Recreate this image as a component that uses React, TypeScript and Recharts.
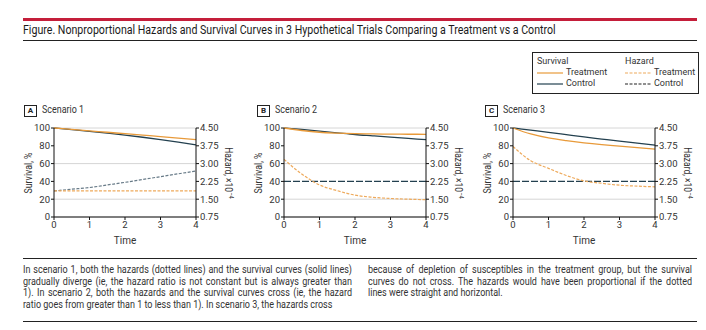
import { LineChart, Line, XAxis, YAxis, CartesianGrid } from 'recharts';

const times = [0, 0.5, 1, 1.5, 2, 2.5, 3, 3.5, 4];
const timeTicks = [0, 1, 2, 3, 4];
const survivalTicks = [0, 20, 40, 60, 80, 100];
const hazardTicks = [0.75, 1.5, 2.25, 3.0, 3.75, 4.5];

// scenario 1: hazards diverge, curves diverge
const s1SurvTreatment = [100, 98.4, 96.8, 95.2, 93.6, 92.0, 90.4, 88.7, 87.0];
const s1SurvControl = [100, 98.2, 96.3, 94.2, 92.0, 89.6, 87.0, 84.1, 81.0];
const s1HazTreatment = [1.85, 1.85, 1.85, 1.85, 1.85, 1.85, 1.85, 1.85, 1.85];
const s1HazControl = [1.85, 1.92, 1.99, 2.1, 2.21, 2.33, 2.45, 2.57, 2.69];

// scenario 2: hazards and curves cross
const s2SurvTreatment = [100, 97.2, 95.2, 94.2, 93.6, 93.3, 93.1, 93.0, 92.9];
const s2SurvControl = [100, 98.3, 96.5, 94.6, 92.7, 91.2, 89.7, 88.3, 86.9];
const s2HazTreatment = [3.18, 2.56, 2.1, 1.86, 1.67, 1.58, 1.53, 1.5, 1.48];
const s2HazControl = [2.25, 2.25, 2.25, 2.25, 2.25, 2.25, 2.25, 2.25, 2.25];

// scenario 3: hazards cross, curves do not
const s3SurvTreatment = [100, 93.3, 88.8, 85.8, 83.4, 81.4, 79.7, 78.0, 76.3];
const s3SurvControl = [100, 97.6, 95.2, 92.6, 90.0, 87.6, 85.2, 83.0, 80.8];
const s3HazTreatment = [3.72, 3.12, 2.8, 2.5, 2.27, 2.17, 2.09, 2.05, 2.02];
const s3HazControl = [2.25, 2.25, 2.25, 2.25, 2.25, 2.25, 2.25, 2.25, 2.25];

const captionLeft = [
  'In scenario 1, both the hazards (dotted lines) and the survival curves (solid lines)',
  'gradually diverge (ie, the hazard ratio is not constant but is always greater than',
  '1). In scenario 2, both the hazards and the survival curves cross (ie, the hazard',
  'ratio goes from greater than 1 to less than 1). In scenario 3, the hazards cross',
];
const captionRight = [
  'because of depletion of susceptibles in the treatment group, but the survival',
  'curves do not cross. The hazards would have been proportional if the dotted',
  'lines were straight and horizontal.',
];

const ORANGE = '#e89a3a';
const ORANGE_LIGHT = '#eeaa5c';
const NAVY = '#23404f';
const FONT = 'Roboto, sans-serif';
const TEXT = '#333';

function buildRows(st: number[], sc: number[], ht: number[], hc: number[]) {
  return times.map((t, i) => ({ time: t, survT: st[i], survC: sc[i], hazT: ht[i], hazC: hc[i] }));
}

// narrow text: the original uses a condensed face, so squeeze Roboto horizontally
function Narrow({ children, scale, style }: { children: any; scale: number; style?: any }) {
  return (
    <div style={{ display: 'inline-block', whiteSpace: 'nowrap', transform: `scaleX(${scale})`, transformOrigin: 'left', ...style }}>
      {children}
    </div>
  );
}

function CaptionColumn({ lines, left, width, justifyLast }: { lines: string[]; left: number; width: number; justifyLast: boolean }) {
  const scale = 0.9;
  return (
    <div style={{ position: 'absolute', left, top: 264 }}>
      {lines.map((l, i) => {
        const justify = i < lines.length - 1 || justifyLast;
        return (
          <div key={l} style={{ height: 11.7 }}>
            <div
              style={{
                width: width / scale, fontSize: 10, lineHeight: '11.7px', color: TEXT, whiteSpace: 'nowrap',
                textAlign: justify ? 'justify' : 'left', textAlignLast: justify ? 'justify' : 'left',
                transform: `scaleX(${scale})`, transformOrigin: 'left',
              }}
            >
              {l}
            </div>
          </div>
        );
      })}
    </div>
  );
}

interface PanelProps {
  left: number;
  boxLeft: number;
  letter: string;
  title: string;
  rows: ReturnType<typeof buildRows>;
  ctrlHazColor: string;
  ctrlHazDash: string;
}

function Panel({ left, boxLeft, letter, title, rows, ctrlHazColor, ctrlHazDash }: PanelProps) {
  const plotLeft = left + 34;
  const plotRight = left + 176;
  const tick = { fontSize: 9.5, fill: TEXT, fontFamily: FONT };
  return (
    <>
      <div
        style={{
          position: 'absolute', left: boxLeft, top: 105, width: 11, height: 10,
          border: '1px solid #222', fontSize: 8, fontWeight: 'bold', lineHeight: '10px',
          textAlign: 'center', fontFamily: FONT, color: '#222',
        }}
      >
        {letter}
      </div>
      <div style={{ position: 'absolute', left: boxLeft + 18, top: 103, fontSize: 10.5, fontFamily: FONT, color: TEXT }}>
        <Narrow scale={0.85}>{title}</Narrow>
      </div>
      <div
        style={{
          position: 'absolute', left: plotLeft - 26, top: 173, transform: 'translate(-50%, -50%) rotate(-90deg) scaleX(0.88)',
          fontSize: 10, fontFamily: FONT, color: TEXT, whiteSpace: 'nowrap',
        }}
      >
        Survival, %
      </div>
      <div
        style={{
          position: 'absolute', left: plotRight + 33, top: 173, transform: 'translate(-50%, -50%) rotate(90deg) scaleX(0.85)',
          fontSize: 10, fontFamily: FONT, color: TEXT, whiteSpace: 'nowrap',
        }}
      >
        Hazard, ×10<sup style={{ fontSize: 7 }}>−4</sup>
      </div>
      <div style={{ position: 'absolute', left, top: 118 }}>
        <LineChart width={230} height={131} data={rows} margin={{ top: 10, right: 10, bottom: 2, left: 8 }}>
          <CartesianGrid yAxisId="surv" vertical={false} stroke="#d6d6d6" />
          <XAxis
            dataKey="time" type="number" domain={[0, 4]} ticks={timeTicks} height={30}
            tick={tick} tickSize={3} tickMargin={1} stroke="#111"
            label={{ value: 'Time', position: 'insideBottom', offset: 3, style: { fontSize: 10, fill: TEXT, fontFamily: FONT } }}
          />
          <YAxis
            yAxisId="surv" domain={[0, 100]} ticks={survivalTicks} width={26}
            tick={tick} tickSize={3} tickMargin={1} stroke="#111"
          />
          <YAxis
            yAxisId="haz" orientation="right" domain={[0.75, 4.5]} ticks={hazardTicks} width={44}
            tick={{ ...tick, textAnchor: 'start' }} tickSize={3} tickMargin={1} stroke="#111"
            tickFormatter={(v: number) => v.toFixed(2)}
          />
          <Line yAxisId="haz" dataKey="hazC" type="monotone" stroke={ctrlHazColor} strokeWidth={1.2} strokeDasharray={ctrlHazDash} dot={false} isAnimationActive={false} />
          <Line yAxisId="haz" dataKey="hazT" type="monotone" stroke={ORANGE_LIGHT} strokeWidth={1.2} strokeDasharray="3 1.5" dot={false} isAnimationActive={false} />
          <Line yAxisId="surv" dataKey="survC" type="monotone" stroke={NAVY} strokeWidth={1.3} dot={false} isAnimationActive={false} />
          <Line yAxisId="surv" dataKey="survT" type="monotone" stroke={ORANGE} strokeWidth={1.3} dot={false} isAnimationActive={false} />
        </LineChart>
      </div>
    </>
  );
}

function LegendKey({ color, dash }: { color: string; dash?: string }) {
  return (
    <svg width={26} height={4} style={{ display: 'inline-block', verticalAlign: 'middle', marginRight: 3 }}>
      <line x1={0} y1={2} x2={26} y2={2} stroke={color} strokeWidth={1.2} strokeDasharray={dash} />
    </svg>
  );
}

export default function App() {
  const legendText = { fontSize: 9, fontFamily: FONT, color: TEXT, whiteSpace: 'nowrap' as const, lineHeight: '11px' };
  return (
    <div style={{ position: 'absolute', left: 0, top: 0, width: 706, height: 330, background: '#fff', fontFamily: FONT }}>
      <div style={{ position: 'absolute', left: 23, top: 18, width: 674, height: 3, background: '#c41e3a' }} />
      <div style={{ position: 'absolute', left: 23, top: 22, fontSize: 12.5, color: '#1a1a1a' }}>
        <Narrow scale={0.85}>
          Figure. Nonproportional Hazards and Survival Curves in 3 Hypothetical Trials Comparing a Treatment vs a Control
        </Narrow>
      </div>
      <div style={{ position: 'absolute', left: 23, top: 40, width: 674, height: 1, background: '#222' }} />

      <div style={{ position: 'absolute', left: 532, top: 52, width: 165, height: 40, border: '1px solid #222' }}>
        <div style={{ position: 'absolute', left: 4, top: 3 }}>
          <div style={legendText}>Survival</div>
          <div style={legendText}><LegendKey color={ORANGE} />Treatment</div>
          <div style={legendText}><LegendKey color={NAVY} />Control</div>
        </div>
        <div style={{ position: 'absolute', left: 92, top: 3 }}>
          <div style={legendText}>Hazard</div>
          <div style={legendText}><LegendKey color={ORANGE_LIGHT} dash="3 1.5" />Treatment</div>
          <div style={legendText}><LegendKey color="#222" dash="3 1.5" />Control</div>
        </div>
      </div>

      <Panel left={20} boxLeft={24} letter="A" title="Scenario 1"
        rows={buildRows(s1SurvTreatment, s1SurvControl, s1HazTreatment, s1HazControl)}
        ctrlHazColor="#687b88" ctrlHazDash="3 1.5" />
      <Panel left={250} boxLeft={257} letter="B" title="Scenario 2"
        rows={buildRows(s2SurvTreatment, s2SurvControl, s2HazTreatment, s2HazControl)}
        ctrlHazColor={NAVY} ctrlHazDash="7 2" />
      <Panel left={479} boxLeft={485} letter="C" title="Scenario 3"
        rows={buildRows(s3SurvTreatment, s3SurvControl, s3HazTreatment, s3HazControl)}
        ctrlHazColor={NAVY} ctrlHazDash="7 2" />

      <div style={{ position: 'absolute', left: 23, top: 258, width: 674, height: 1, background: '#222' }} />
      <CaptionColumn lines={captionLeft} left={23} width={329} justifyLast={false} />
      <CaptionColumn lines={captionRight} left={368} width={324} justifyLast={false} />
      <div style={{ position: 'absolute', left: 23, top: 321, width: 674, height: 1, background: '#222' }} />
    </div>
  );
}
